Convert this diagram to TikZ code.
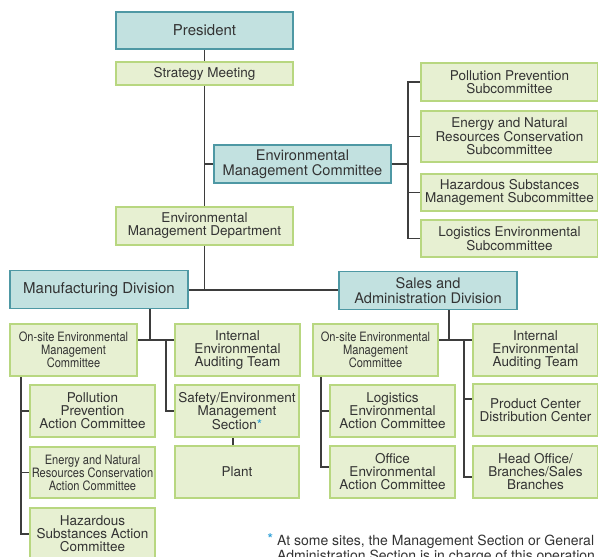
\documentclass[tikz,border=0pt]{standalone}
\usepackage{fontspec}
\setmainfont{TeX Gyre Heros}
\newfontfamily\narrowfont{TeX Gyre Heros}[FakeStretch=0.86]
\definecolor{txt}{HTML}{333333}
\definecolor{tealb}{HTML}{4E98A4}
\definecolor{tealf}{HTML}{C2E1E0}
\definecolor{greenb}{HTML}{B8D780}
\definecolor{greenf}{HTML}{E7F0D2}
\definecolor{linec}{HTML}{3D3D3D}
\definecolor{starblue}{HTML}{1E98D4}
\pgfdeclarelayer{background}
\pgfsetlayers{background,main}
\tikzset{
  base/.style={inner sep=0pt, align=center, text=txt, line width=1.3pt},
  tealbox/.style={base, draw=tealb, fill=tealf, font=\fontsize{14.6}{15}\selectfont},
  greenbox/.style={base, draw=greenb, fill=greenf, font=\fontsize{13.5}{13}\selectfont},
  narrowbox/.style={greenbox, font=\narrowfont\fontsize{12.9}{13}\selectfont},
  wh/.style 2 args={minimum width=#1pt, minimum height=#2pt},
  link/.style={draw=linec, line width=1.2pt}
}
\begin{document}
\begin{tikzpicture}[x=1pt,y=-1pt]
\useasboundingbox (0,0) rectangle (598,557);
% top column
\node[tealbox, wh={177}{37}, font=\fontsize{15}{15}\selectfont] (pres) at (204.5,30.5) {President};
\node[greenbox, wh={177}{23}] (strat) at (204.5,73.5) {Strategy Meeting};
\node[tealbox, wh={177}{38}] (emc) at (302.5,164) {Environmental\\Management Committee};
\node[greenbox, wh={177}{38}] (emd) at (204.5,226) {Environmental\\Management Department};
% subcommittees
\node[greenbox, wh={177}{38}] (sub1) at (509.5,82) {Pollution Prevention\\Subcommittee};
\node[greenbox, wh={177}{51}] (sub2) at (509.5,136.5) {Energy and Natural\\Resources Conservation\\Subcommittee};
\node[greenbox, wh={177}{37}] (sub3) at (509.5,192.5) {Hazardous Substances\\Management Subcommittee};
\node[greenbox, wh={177}{37}] (sub4) at (509.5,238.5) {Logistics Environmental\\Subcommittee};
% divisions
\node[tealbox, wh={178}{38}, font=\fontsize{15}{15}\selectfont] (mfg) at (99,289.5) {Manufacturing Division};
\node[tealbox, wh={178}{38}] (sales) at (428,290.5) {Sales and\\Administration Division};
% manufacturing side
\node[narrowbox, wh={127}{52}] (m_on) at (73.5,350) {On-site Environmental\\Management\\Committee};
\node[greenbox, wh={125}{52}] (m_int) at (237.5,350) {Internal\\Environmental\\Auditing Team};
\node[greenbox, wh={124}{52}] (m_safe) at (237,411) {Safety/Environment\\Management\\Section\textcolor{starblue}{*}};
\node[greenbox, wh={124}{52}] (m_plant) at (237,472) {Plant};
\node[greenbox, wh={125}{52}] (m_pp) at (92.5,411) {Pollution\\Prevention\\Action Committee};
\node[narrowbox, wh={125}{51}] (m_en) at (92.5,472.5) {Energy and Natural\\Resources Conservation\\Action Committee};
\node[greenbox, wh={125}{52}] (m_haz) at (92.5,534) {Hazardous\\Substances Action\\Committee};
% sales side
\node[narrowbox, wh={125}{52}] (s_on) at (375.5,350) {On-site Environmental\\Management\\Committee};
\node[greenbox, wh={125}{52}] (s_int) at (535.5,350) {Internal\\Environmental\\Auditing Team};
\node[greenbox, wh={125}{52}] (s_log) at (392.5,411) {Logistics\\Environmental\\Action Committee};
\node[greenbox, wh={125}{52}] (s_off) at (392.5,472) {Office\\Environmental\\Action Committee};
\node[greenbox, wh={125}{52}] (s_prod) at (535.5,410) {Product Center\\Distribution Center};
\node[greenbox, wh={125}{52}] (s_head) at (535.5,472) {Head Office/\\Branches/Sales\\Branches};
% footnote
\node[anchor=north west, align=left, inner sep=0pt, text=txt, font=\fontsize{14}{12}\selectfont] (fn) at (277,535) {At some sites, the Management Section or General\\Administration Section is in charge of this operation.};
\node[anchor=north east, inner sep=0pt, text=starblue, font=\fontsize{15}{15}\selectfont] (star) at (273.5,533.5) {*};
% connectors
\coordinate (mj0) at (204.5,290);
\coordinate (bk) at (408,164);
\coordinate (mj) at (150,340);
\coordinate (mk) at (166,340);
\coordinate (ml) at (21,376);
\coordinate (sj) at (449,340);
\coordinate (sk) at (464,340);
\coordinate (sl) at (321,376);
\begin{pgfonlayer}{background}
\draw[link] (pres.south) -- (mj0);
\draw[link] (mfg.east |- mj0) -- (sales.west |- mj0);
\draw[link] (emc.west) -- (emc.west -| mj0);
\draw[link] (emc.east) -- (bk);
\draw[link] (sub1.west) -| (bk) |- (sub4.west);
\draw[link] (sub2.west) -- (sub2.west -| bk);
\draw[link] (sub3.west) -- (sub3.west -| bk);
% manufacturing
\draw[link] (mfg.south -| mj) -- (mj);
\draw[link] (m_on.east |- mj) -- (m_int.west |- mj);
\draw[link] (mk) |- (m_safe.west);
\draw[link] ([xshift=-4pt]m_safe.south) -- ([xshift=-4pt]m_plant.north);
\draw[link] (m_on.south -| ml) |- (m_haz.west);
\draw[link] (m_pp.west) -- (m_pp.west -| ml);
\draw[link] (m_en.west) -- (m_en.west -| ml);
% sales
\draw[link] (sales.south -| sj) -- (sj);
\draw[link] (s_on.east |- sj) -- (s_int.west |- sj);
\draw[link] (sk) |- ([yshift=-5pt]s_head.west);
\draw[link] ([yshift=11pt]s_prod.west) -- ([yshift=11pt]s_prod.west -| sk);
\draw[link] (s_on.south -| sl) |- ([yshift=5pt]s_off.west);
\draw[link] (s_log.west) -- (s_log.west -| sl);
\end{pgfonlayer}
\end{tikzpicture}
\end{document}
